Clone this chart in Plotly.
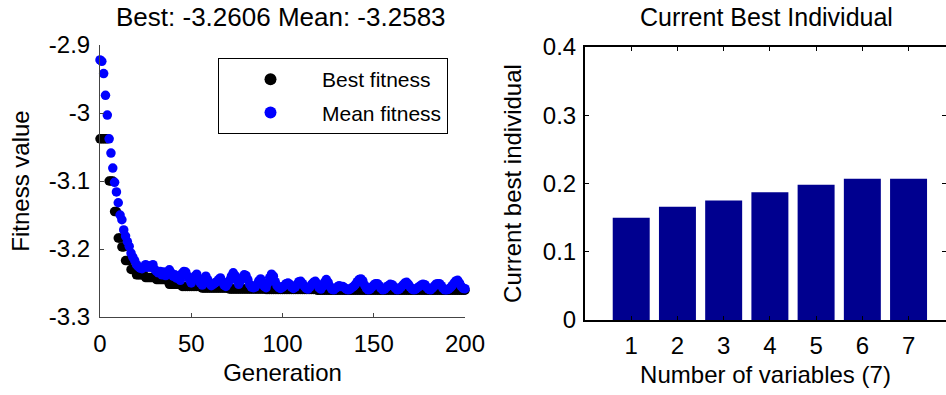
import plotly.graph_objects as go

# ---------------- data ----------------
generations = list(range(201))

best_fitness = [
    -3.038, -3.038, -3.038, -3.038, -3.038, -3.100, -3.100, -3.100, -3.145, -3.145,
    -3.184, -3.184, -3.197, -3.197, -3.217, -3.217, -3.217, -3.230, -3.230, -3.230,
    -3.238, -3.238, -3.238, -3.238, -3.238, -3.242, -3.242, -3.242, -3.242, -3.242,
    -3.242, -3.245, -3.245, -3.245, -3.245, -3.245, -3.245, -3.245, -3.252, -3.252,
    -3.252, -3.252, -3.252, -3.252, -3.252, -3.255, -3.255, -3.255, -3.255, -3.255,
    -3.255, -3.255, -3.255, -3.255, -3.255, -3.255, -3.2575, -3.2575, -3.2575, -3.2575,
    -3.2575, -3.2575, -3.2575, -3.2575, -3.2575, -3.2575, -3.2575, -3.2575, -3.2575, -3.2575,
    -3.2575, -3.259, -3.259, -3.259, -3.259, -3.259, -3.259, -3.259, -3.259, -3.259,
    -3.259, -3.259, -3.259, -3.259, -3.259, -3.259, -3.259, -3.259, -3.259, -3.259,
    -3.259, -3.2595, -3.2595, -3.2595, -3.2595, -3.2595, -3.2595, -3.2595, -3.2595, -3.2595,
    -3.2595, -3.2595, -3.2595, -3.2595, -3.2595, -3.2595, -3.2595, -3.2595, -3.2595, -3.2595,
    -3.2595, -3.2595, -3.2595, -3.2595, -3.2595, -3.2595, -3.2595, -3.2595, -3.2595, -3.2606,
    -3.2606, -3.2606, -3.2606, -3.2606, -3.2606, -3.2606, -3.2606, -3.2606, -3.2606, -3.2606,
    -3.2606, -3.2606, -3.2606, -3.2606, -3.2606, -3.2606, -3.2606, -3.2606, -3.2606, -3.2606,
    -3.2606, -3.2606, -3.2606, -3.2606, -3.2606, -3.2606, -3.2606, -3.2606, -3.2606, -3.2606,
    -3.2606, -3.2606, -3.2606, -3.2606, -3.2606, -3.2606, -3.2606, -3.2606, -3.2606, -3.2606,
    -3.2606, -3.2606, -3.2606, -3.2606, -3.2606, -3.2606, -3.2606, -3.2606, -3.2606, -3.2606,
    -3.2606, -3.2606, -3.2606, -3.2606, -3.2606, -3.2606, -3.2606, -3.2606, -3.2606, -3.2606,
    -3.2606, -3.2606, -3.2606, -3.2606, -3.2606, -3.2606, -3.2606, -3.2606, -3.2606, -3.2606,
    -3.2606, -3.2606, -3.2606, -3.2606, -3.2606, -3.2606, -3.2606, -3.2606, -3.2606, -3.2606,
    -3.2606,
]

mean_fitness = [
    -2.922, -2.924, -2.942, -2.974, -3.003, -3.038, -3.059, -3.081, -3.102, -3.116,
    -3.132, -3.150, -3.157, -3.172, -3.181, -3.189, -3.196, -3.206, -3.212, -3.217,
    -3.223, -3.226, -3.228, -3.229, -3.226, -3.223, -3.227, -3.225, -3.227, -3.223,
    -3.230, -3.233, -3.235, -3.233, -3.238, -3.234, -3.239, -3.236, -3.2305, -3.235,
    -3.240, -3.238, -3.243, -3.240, -3.246, -3.236, -3.233, -3.234, -3.240, -3.245,
    -3.250, -3.244, -3.240, -3.237, -3.243, -3.250, -3.253, -3.246, -3.240, -3.245,
    -3.251, -3.254, -3.252, -3.250, -3.248, -3.245, -3.2426, -3.248, -3.253, -3.255,
    -3.251, -3.246, -3.240, -3.235, -3.239, -3.246, -3.252, -3.247, -3.242, -3.238,
    -3.239, -3.245, -3.252, -3.256, -3.257, -3.256, -3.252, -3.247, -3.244, -3.249,
    -3.255, -3.257, -3.250, -3.242, -3.237, -3.240, -3.248, -3.254, -3.257, -3.258,
    -3.256, -3.254, -3.251, -3.250, -3.252, -3.256, -3.258, -3.256, -3.252, -3.248,
    -3.2475, -3.251, -3.255, -3.258, -3.259, -3.256, -3.252, -3.249, -3.2475, -3.252,
    -3.257, -3.259, -3.255, -3.249, -3.245, -3.249, -3.255, -3.259, -3.260, -3.258,
    -3.256, -3.254, -3.255, -3.255, -3.257, -3.259, -3.260, -3.259, -3.257, -3.255,
    -3.252, -3.248, -3.245, -3.244, -3.247, -3.253, -3.258, -3.260, -3.259, -3.256,
    -3.253, -3.251, -3.251, -3.254, -3.258, -3.260, -3.259, -3.256, -3.254, -3.252,
    -3.2525, -3.255, -3.258, -3.260, -3.259, -3.256, -3.253, -3.250, -3.249, -3.252,
    -3.256, -3.259, -3.260, -3.259, -3.257, -3.255, -3.253, -3.252, -3.2525, -3.256,
    -3.259, -3.260, -3.258, -3.255, -3.252, -3.251, -3.251, -3.254, -3.258, -3.260,
    -3.260, -3.259, -3.257, -3.254, -3.250, -3.247, -3.246, -3.250, -3.255, -3.258,
    -3.2583,
]

variables = [1, 2, 3, 4, 5, 6, 7]
best_individual = [0.150, 0.166, 0.175, 0.187, 0.198, 0.207, 0.207]

left_title = "Best: -3.2606 Mean: -3.2583"
right_title = "Current Best Individual"

# ---------------- figure ----------------
W, H = 946, 395
FONT = "Liberation Sans, Arial, sans-serif"

def px(x):
    return x / W

def py(y):
    return 1 - y / H

fig = go.Figure()

fig.add_trace(go.Scatter(
    x=generations, y=best_fitness, mode="markers", name="Best fitness",
    legendgroup="best",
    marker=dict(color="black", size=9.5, line=dict(width=0)),
    cliponaxis=False, xaxis="x", yaxis="y",
))
fig.add_trace(go.Scatter(
    x=generations, y=mean_fitness, mode="markers", name="Mean fitness",
    legendgroup="mean",
    marker=dict(color="#0000FF", size=9.5, line=dict(width=0)),
    cliponaxis=False, xaxis="x", yaxis="y",
))
fig.add_trace(go.Bar(
    x=variables, y=best_individual, width=0.8, marker=dict(color="#00008F", line=dict(width=0)),
    showlegend=False, xaxis="x2", yaxis="y2",
))

tickfont = dict(family=FONT, size=24, color="black")
titlefont = dict(family=FONT, size=24, color="black")

fig.update_layout(
    width=W, height=H,
    margin=dict(l=0, r=0, t=0, b=0, pad=0, autoexpand=False),
    paper_bgcolor="white", plot_bgcolor="white",
    font=dict(family=FONT, color="black"),
    showlegend=True,
    legend=dict(
        x=px(218), y=py(58), xanchor="left", yanchor="top",
        bordercolor="black", borderwidth=1, bgcolor="white",
        font=dict(family=FONT, size=21, color="black"),
        itemsizing="constant", itemwidth=93,
        entrywidth=245, entrywidthmode="pixels",
        tracegroupgap=3,
    ),
    xaxis=dict(
        domain=[px(100), px(465)], range=[0, 200], anchor="y",
        tickvals=[0, 50, 100, 150, 200], ticks="inside", ticklen=4, tickcolor="#444",
        showline=True, linecolor="#444", linewidth=1, mirror=False,
        showgrid=False, zeroline=False, tickfont=tickfont, ticklabelstandoff=5,
        automargin=False,
        title=dict(text="Generation", font=titlefont, standoff=8),
    ),
    yaxis=dict(
        domain=[py(317), py(45)], range=[-3.3, -2.9], anchor="x",
        tickvals=[-3.3, -3.2, -3.1, -3.0, -2.9], ticktext=["-3.3", "-3.2", "-3.1", "-3", "-2.9"],
        ticks="inside", ticklen=4, tickcolor="#444",
        showline=True, linecolor="#444", linewidth=1, mirror=False,
        showgrid=False, zeroline=False, tickfont=tickfont, ticklabelstandoff=4,
        automargin=False,
        title=dict(text="Fitness value", font=titlefont, standoff=12),
    ),
    xaxis2=dict(
        domain=[px(585), 1.0], range=[0, 7.81], anchor="y2",
        tickvals=variables, ticks="inside", ticklen=4, tickcolor="black",
        showline=True, linecolor="black", linewidth=2, mirror="ticks",
        showgrid=False, zeroline=False, tickfont=tickfont, ticklabelstandoff=3,
        automargin=False,
        title=dict(text="Number of variables (7)", font=titlefont, standoff=8),
    ),
    yaxis2=dict(
        domain=[py(320), py(47)], range=[0, 0.4], anchor="x2",
        tickvals=[0, 0.1, 0.2, 0.3, 0.4], ticktext=["0", "0.1", "0.2", "0.3", "0.4"],
        ticks="inside", ticklen=4, tickcolor="black",
        showline=True, linecolor="black", linewidth=2, mirror="ticks",
        showgrid=False, zeroline=False, tickfont=tickfont, ticklabelstandoff=2,
        automargin=False,
        title=dict(text="Current best individual", font=titlefont, standoff=14),
    ),
    annotations=[
        dict(text=left_title, x=px(281), y=py(17), xref="paper", yref="paper",
             xanchor="center", yanchor="middle", showarrow=False,
             font=dict(family=FONT, size=26, color="black")),
        dict(text=right_title, x=px(766), y=py(17), xref="paper", yref="paper",
             xanchor="center", yanchor="middle", showarrow=False,
             font=dict(family=FONT, size=25, color="black")),
    ],
)

fig.write_html("out.html")
